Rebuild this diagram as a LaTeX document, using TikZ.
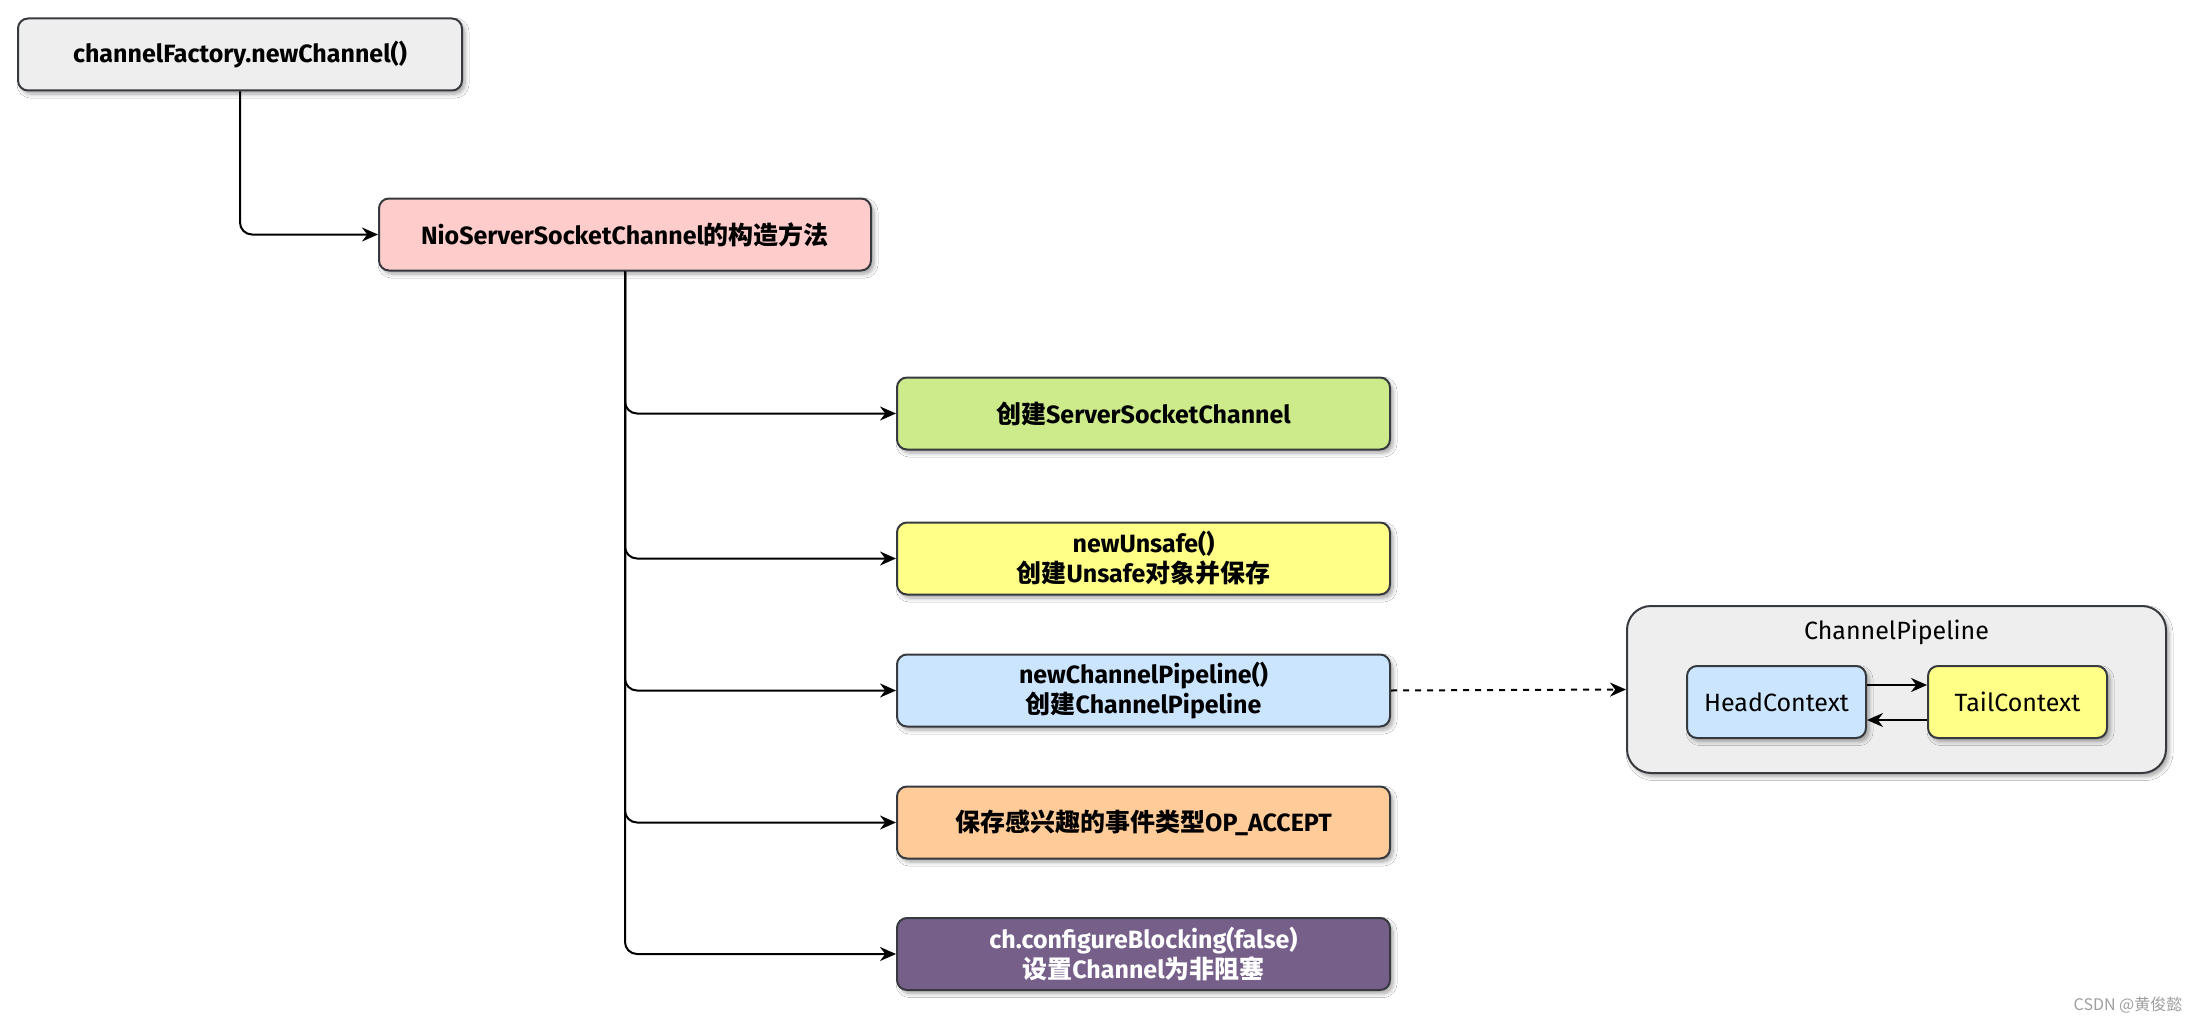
\documentclass[tikz,border=0pt]{standalone}
\usepackage{fontspec}
\setmainfont{Fira Sans}
\newfontfamily\cjk{Noto Sans CJK SC}
\usetikzlibrary{arrows.meta,shadows.blur}
\definecolor{bd}{HTML}{36393D}
\definecolor{cgray}{HTML}{EEEEEE}
\definecolor{cpink}{HTML}{FFCCCC}
\definecolor{cgreen}{HTML}{CDEB8B}
\definecolor{cyellow}{HTML}{FFFF88}
\definecolor{cblue}{HTML}{CCE5FF}
\definecolor{corange}{HTML}{FFCC99}
\definecolor{cpurple}{HTML}{76608A}
\begin{document}
\begin{tikzpicture}[x=0.5pt,y=-0.5pt,
  box/.style={draw=bd, line width=1pt, rounded corners=5pt, align=center,
    font=\fontsize{12.5}{15}\selectfont\bfseries, minimum height=36pt,
    blur shadow={shadow xshift=1.5pt, shadow yshift=-1.8pt, shadow blur steps=6, shadow opacity=35, shadow blur radius=2pt}},
  wbox/.style={box, minimum width=246.5pt},
  conn/.style={draw=black, line width=1pt, rounded corners=6pt, -{Stealth[length=8pt,width=7pt]}},
  plain/.style={font=\fontsize{12.5}{15}\selectfont}]
\useasboundingbox (0,0) rectangle (2195,1022);
\fill[white] (0,0) rectangle (2195,1022);

\node[box, fill=cgray, minimum width=222pt] (n1) at (240,54.5) {channelFactory.newChannel()};
\node[box, fill=cpink, minimum width=246pt] (n2) at (625,234.5) {NioServerSocketChannel{\cjk 的构造方法}};

\node[wbox, fill=cgreen] (g1) at (1143.5,413.5) {{\cjk 创建}ServerSocketChannel};
\node[wbox, fill=cyellow] (g2) at (1143.5,558.5) {newUnsafe()\\{\cjk 创建}Unsafe{\cjk 对象并保存}};
\node[wbox, fill=cblue] (g3) at (1143.5,690.5) {newChannelPipeline()\\{\cjk 创建}ChannelPipeline};
\node[wbox, fill=corange] (g4) at (1143.5,822.5) {{\cjk 保存感兴趣的事件类型}OP\_ACCEPT};
\node[wbox, fill=cpurple, text=white] (g5) at (1143.5,954) {ch.configureBlocking(false)\\{\cjk 设置}Channel{\cjk 为非阻塞}};

\node[box, fill=cgray, minimum width=269.5pt, minimum height=83.5pt, rounded corners=12pt] (cp) at (1896.5,689.5) {};
\node[plain, anchor=center] (cpt) at (1896.5,632) {ChannelPipeline};
\node[box, fill=cblue, font=\fontsize{12.5}{15}\selectfont, minimum width=89.5pt] (hc) at (1776.5,702) {HeadContext};
\node[box, fill=cyellow, font=\fontsize{12.5}{15}\selectfont, minimum width=89.5pt] (tc) at (2017.5,702) {TailContext};

\draw[conn] (n1.south) |- (n2.west);
\draw[conn] (n2.south) |- (g1.west);
\draw[conn] (n2.south) |- (g2.west);
\draw[conn] (n2.south) |- (g3.west);
\draw[conn] (n2.south) |- (g4.west);
\draw[conn] (n2.south) |- (g5.west);
\draw[conn, dashed] (g3.east) -- (cp.west);
\draw[conn] ([yshift=8.5pt]hc.east) -- ([yshift=8.5pt]tc.west);
\draw[conn] ([yshift=-9pt]tc.west) -- ([yshift=-9pt]hc.east);

\node[text=gray!75, font=\cjk\fontsize{8}{10}\selectfont] (wm) at (2128,1005) {CSDN @黄俊懿};
\end{tikzpicture}
\end{document}
